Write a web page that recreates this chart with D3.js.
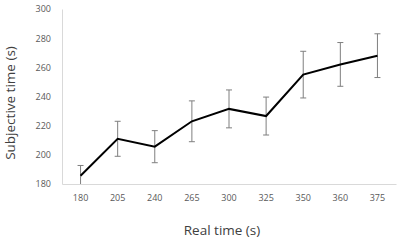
<!DOCTYPE html>
<html>
<head>
<meta charset="utf-8">
<script src="https://cdn.jsdelivr.net/npm/d3@7"></script>
<style>
  body { margin: 0; background: #fff; }
  svg { display: block; font-family: "Open Sans", sans-serif; }
</style>
</head>
<body>
<svg width="400" height="241"></svg>
<script>
const realTimes = ["180", "205", "240", "265", "300", "325", "350", "360", "375"];
const subjective = [185.7, 211, 205.6, 223, 231.5, 226.6, 255, 262, 268];
const errors = [7, 12, 11, 14, 13, 13, 16, 15, 15];
const yTicks = [180, 200, 220, 240, 260, 280, 300];

const svg = d3.select("svg");
const margin = {left: 62, right: 4, top: 9, bottom: 57};
const width = 400, height = 241;

const x = d3.scaleBand()
    .domain(realTimes)
    .range([margin.left, width - margin.right]);

const y = d3.scaleLinear()
    .domain([180, 300])
    .range([height - margin.bottom, margin.top]);

const data = realTimes.map((t, i) => ({t, v: subjective[i], e: errors[i]}));
const cx = d => x(d.t) + x.bandwidth() / 2;
const clampY = v => y(Math.max(180, Math.min(300, v)));

// axes
svg.append("g")
    .attr("transform", `translate(0,${y(180)})`)
    .call(d3.axisBottom(x).tickSize(0).tickPadding(11))
    .call(g => g.select(".domain").attr("stroke", "#d9d9d9"))
    .call(g => g.selectAll("text").attr("fill", "#595959").attr("font-size", 9)
                .attr("font-family", "Open Sans, sans-serif"));

svg.append("g")
    .attr("transform", `translate(${margin.left},0)`)
    .call(d3.axisLeft(y).tickValues(yTicks).tickSize(0).tickPadding(11))
    .call(g => g.select(".domain").attr("stroke", "#d9d9d9"))
    .call(g => g.selectAll("text").attr("fill", "#595959").attr("font-size", 9)
                .attr("font-family", "Open Sans, sans-serif"));

// error bars
const eb = svg.append("g").attr("stroke", "#7f7f7f").attr("stroke-width", 1);
eb.selectAll("line.v").data(data).join("line")
    .attr("class", "v")
    .attr("x1", cx).attr("x2", cx)
    .attr("y1", d => clampY(d.v + d.e))
    .attr("y2", d => clampY(d.v - d.e));
eb.selectAll("line.top").data(data).join("line")
    .attr("class", "top")
    .attr("x1", d => cx(d) - 3).attr("x2", d => cx(d) + 3)
    .attr("y1", d => clampY(d.v + d.e)).attr("y2", d => clampY(d.v + d.e));
eb.selectAll("line.bot").data(data.filter(d => d.v - d.e > 180)).join("line")
    .attr("class", "bot")
    .attr("x1", d => cx(d) - 3).attr("x2", d => cx(d) + 3)
    .attr("y1", d => clampY(d.v - d.e)).attr("y2", d => clampY(d.v - d.e));

// line
svg.append("path")
    .datum(data)
    .attr("fill", "none")
    .attr("stroke", "#000")
    .attr("stroke-width", 2)
    .attr("d", d3.line().x(cx).y(d => y(d.v)));

// axis titles
svg.append("text")
    .attr("x", 222).attr("y", 235)
    .attr("text-anchor", "middle")
    .attr("font-size", 13.5)
    .attr("fill", "#404040")
    .text("Real time (s)");

svg.append("text")
    .attr("transform", "translate(15,103) rotate(-90)")
    .attr("text-anchor", "middle")
    .attr("font-size", 13.5)
    .attr("fill", "#404040")
    .text("Subjective time (s)");
</script>
</body>
</html>
